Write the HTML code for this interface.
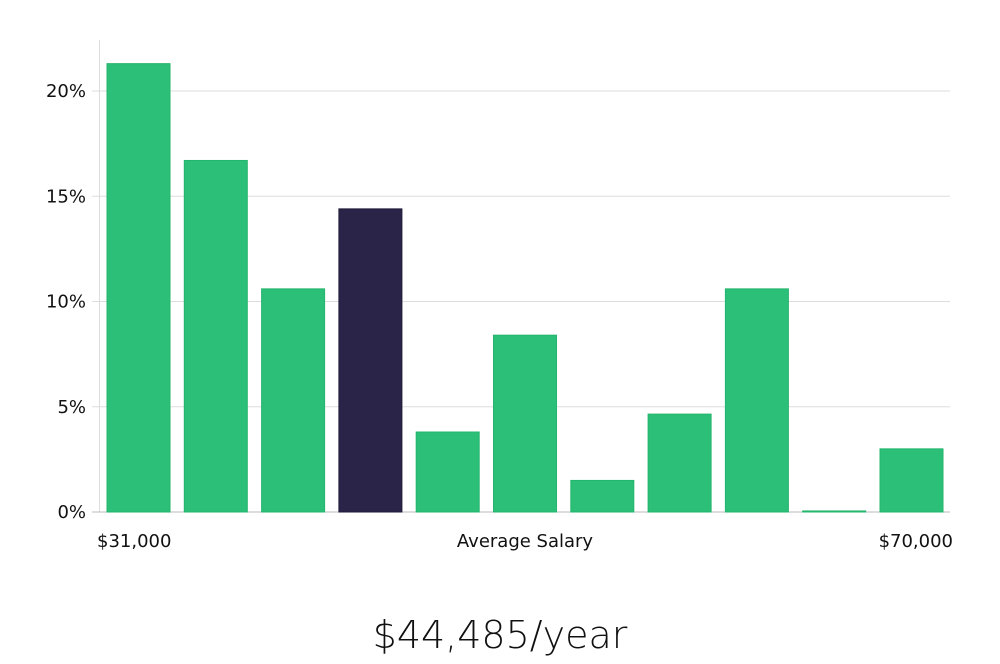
<!DOCTYPE html>
<html><head><meta charset="utf-8"><style>
body{margin:0;background:#fff;width:1000px;height:660px;overflow:hidden;font-family:"DejaVu Sans","Liberation Sans",sans-serif;}
</style></head><body>
<svg width="1000" height="660" xmlns="http://www.w3.org/2000/svg">
<g id="grid"></g><g id="bars"></g><g id="labels"></g>
<text x="97" y="547" font-size="18" fill="#111" font-family="DejaVu Sans, sans-serif">$31,000</text>
<text x="525" y="547" font-size="18" fill="#111" text-anchor="middle" font-family="DejaVu Sans, sans-serif">Average Salary</text>
<text x="953" y="547" font-size="18" fill="#111" text-anchor="end" font-family="DejaVu Sans, sans-serif">$70,000</text>
<text x="500" y="648" font-size="38" fill="#111" text-anchor="middle" font-family="DejaVu Sans, sans-serif" font-weight="300">$44,485/year</text>
</svg>
<script>
const values=[21.3,16.7,10.6,14.4,3.8,8.4,1.5,4.65,10.6,0.05,3.0];
const highlightIndex=3;
const ticks=[0,5,10,15,20];
const tickLabels=["0%","5%","10%","15%","20%"];
const NS="http://www.w3.org/2000/svg";
const y0=512,pxPer=21.05,x0=107,step=77.3,bw=63;
const yS=v=>y0-v*pxPer;
const xS=i=>x0+i*step;
const grid=document.getElementById('grid'),bars=document.getElementById('bars'),labels=document.getElementById('labels');
function mk(tag,attrs,parent){const e=document.createElementNS(NS,tag);for(const k in attrs)e.setAttribute(k,attrs[k]);parent.appendChild(e);return e;}
const ax=mk('line',{x1:99.5,x2:99.5,y1:40,y2:512,stroke:'#ddd'},grid);


ticks.forEach((t,i)=>{
  const y=yS(t);
  const l=mk('line',{x1:92,x2:950,y1:y,y2:y,stroke:t===0?'#bbb':'#ddd'},grid);
  
  
  const tx=mk('text',{x:86,y:y+6,'font-size':18,fill:'#111','text-anchor':'end'},labels);
  
  
  tx.textContent=tickLabels[i];
});
values.forEach((v,i)=>{
  const r=mk('rect',{x:xS(i),y:yS(v),width:bw,height:Math.max(1,y0-yS(v)),fill:i===highlightIndex?'#2a2548':'#2bbf77',stroke:i===highlightIndex?'#1e1a3a':'#24b56d','stroke-width':1},bars);
  
  
});
</script>
</body></html>
